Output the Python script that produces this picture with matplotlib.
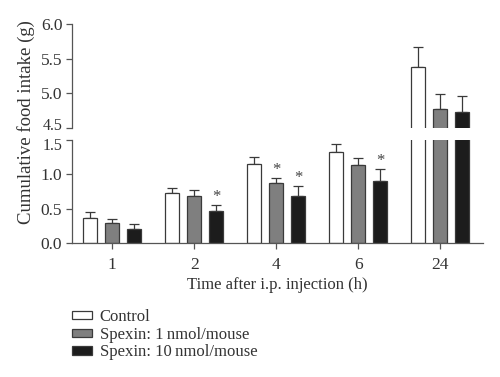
import matplotlib.pyplot as plt
import matplotlib.transforms as mtransforms
import numpy as np
from matplotlib.patches import Patch

plt.rcParams['font.family'] = ['Liberation Serif', 'DejaVu Serif']
plt.rcParams['font.size'] = 12

# data
times = ['1', '2', '4', '6', '24']
series = ['Control', 'Spexin: 1\u2009nmol/mouse', 'Spexin: 10\u2009nmol/mouse']
control = [0.36, 0.73, 1.15, 1.33, 5.38]
control_err = [0.09, 0.07, 0.11, 0.11, 0.29]
spx1 = [0.29, 0.69, 0.87, 1.13, 4.77]
spx1_err = [0.06, 0.08, 0.08, 0.11, 0.22]
spx10 = [0.20, 0.46, 0.69, 0.90, 4.73]
spx10_err = [0.07, 0.10, 0.14, 0.18, 0.23]
# significance markers (series index, time index)
stars = [(2, 1), (1, 2), (2, 2), (2, 3)]

colors = ['white', '#7f7f7f', '#1c1c1c']
edge = '#3a3a3a'
axcol = '#555555'
txtcol = '#333333'

fig = plt.figure(figsize=(5.0, 3.77), dpi=100)
ax_top = fig.add_axes([0.144, 0.6605, 0.822, 0.276])
ax_bot = fig.add_axes([0.144, 0.3554, 0.822, 0.273])

x = np.arange(len(times))
off = 0.268
w = 0.17
vals = [control, spx1, spx10]
errs = [control_err, spx1_err, spx10_err]

for ax in (ax_top, ax_bot):
    for i in range(3):
        ax.bar(x + (i - 1) * off, vals[i], w, color=colors[i], edgecolor=edge,
               linewidth=0.9, zorder=2)
        ax.errorbar(x + (i - 1) * off, vals[i], yerr=[np.zeros(len(x)), errs[i]],
                    fmt='none', ecolor=edge, elinewidth=0.9, capsize=3.5,
                    capthick=0.9, zorder=1)
    ax.set_xlim(-0.49, 4.52)
    for s in ['top', 'right']:
        ax.spines[s].set_visible(False)
    for s in ['left', 'bottom']:
        ax.spines[s].set_color(axcol)
        ax.spines[s].set_linewidth(0.9)
    ax.tick_params(colors=axcol, labelcolor=txtcol, length=4, width=0.9,
                   labelsize=12.5, pad=3)

for si, ti in stars:
    top = vals[si][ti] + errs[si][ti]
    ax_bot.text(x[ti] + (si - 1) * off, top + 0.0, '*', ha='center',
                va='bottom', fontsize=12, color='#444444')

ax_top.set_ylim(4.5, 6.0)
ax_top.set_yticks([4.5, 5.0, 5.5, 6.0])
ax_top.set_yticklabels(['4.5', '5.0', '5.5', '6.0'])
ax_top.spines['bottom'].set_visible(False)
ax_top.set_xticks([])

ax_bot.set_ylim(0, 1.5)
ax_bot.set_yticks([0.0, 0.5, 1.0, 1.5])
ax_bot.set_yticklabels(['0.0', '0.5', '1.0', '1.5'])
ax_bot.set_xticks(x)
ax_bot.set_xticklabels(times)
ax_bot.tick_params(axis='x', pad=6)
ax_bot.set_xlabel('Time after i.p. injection (h)', fontsize=12, color=txtcol,
                  labelpad=3)

# the two labels at the axis break sit very close; nudge them apart a little
lab45 = ax_top.get_yticklabels()[0]
lab15 = ax_bot.get_yticklabels()[-1]
lab45.set_fontsize(11.5)
lab15.set_fontsize(11.5)
lab45.set_transform(lab45.get_transform() +
                    mtransforms.ScaledTranslation(0, 3 / 72, fig.dpi_scale_trans))
lab15.set_transform(lab15.get_transform() +
                    mtransforms.ScaledTranslation(0, -3 / 72, fig.dpi_scale_trans))

fig.text(0.052, 0.676, 'Cumulative food intake (g)', rotation=90, ha='center',
         va='center', fontsize=13.5, color=txtcol)

handles = [Patch(facecolor=colors[i], edgecolor=edge, linewidth=0.9)
           for i in range(3)]
fig.legend(handles, series, loc='upper left', bbox_to_anchor=(0.144, 0.180),
           frameon=False, handlelength=1.2, handleheight=0.4,
           handletextpad=0.45, labelspacing=0.1, fontsize=12,
           labelcolor=txtcol, borderaxespad=0, borderpad=0)

fig.savefig('out.png', dpi=100)
